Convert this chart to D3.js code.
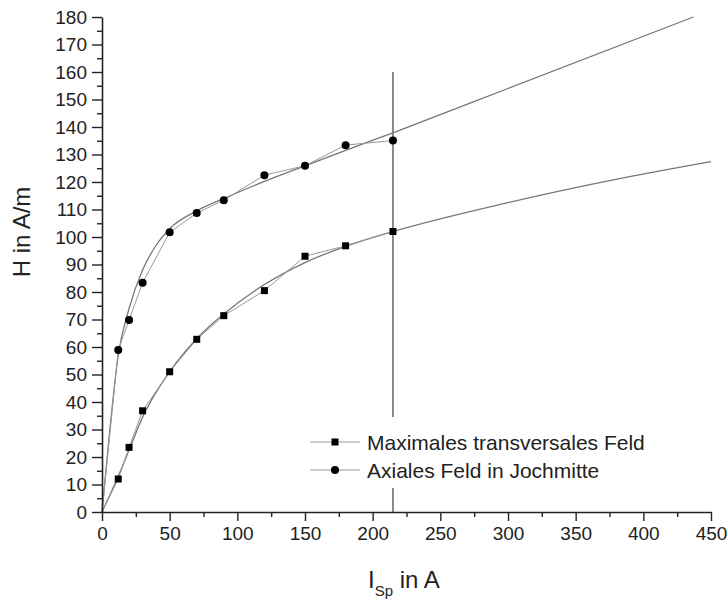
<!DOCTYPE html>
<html>
<head>
<meta charset="utf-8">
<script src="https://cdn.jsdelivr.net/npm/d3@7"></script>
<style>
  body { margin: 0; background: #fff; }
  text { font-family: "Liberation Sans", Arial, sans-serif; fill: #222; }
</style>
</head>
<body>
<div id="plot"></div>
<script>
// measured points
var current = [0, 12, 20, 30, 50, 70, 90, 120, 150, 180, 215];
var transversal = [0, 12, 23.5, 36.8, 51, 62.8, 71.4, 80.5, 93, 96.8, 102];
var axial = [0, 58.9, 69.8, 83.4, 101.7, 108.7, 113.4, 122.5, 125.9, 133.4, 135.1];

// fitted curves
var fitTransX = [0, 12, 20, 30, 50, 70, 90, 120, 150, 180, 215, 300, 375, 450];
var fitTransY = [0, 13, 22.5, 34.5, 51, 63, 72, 82.7, 90.7, 96.6, 102, 112.5, 120.5, 127.4];
var fitAxX = [0, 5, 12, 20, 30, 40, 50, 70, 90, 120, 150, 180, 215, 300, 437];
var fitAxY = [0, 26, 57, 74, 88, 97, 103, 109.5, 114, 120.2, 125.9, 131.5, 137.9, 154, 180];

var markerX = 215, markerTop = 160;
var xTicks = [0, 50, 100, 150, 200, 250, 300, 350, 400, 450];
var yTicks = d3.range(0, 181, 10);

var width = 728, height = 600;

var svg = d3.select("#plot")
    .append("svg")
    .attr("width", width)
    .attr("height", height);

var x = d3.scaleLinear().domain([0, 450]).range([102, 711]);
var y = d3.scaleLinear().domain([0, 180]).range([512, 17]);

var line = d3.line()
    .x(d => x(d[0]))
    .y(d => y(d[1]));
var smooth = d3.line()
    .x(d => x(d[0]))
    .y(d => y(d[1]))
    .curve(d3.curveMonotoneX);

// vertical marker at 215 A
svg.append("line")
    .attr("x1", x(markerX)).attr("x2", x(markerX))
    .attr("y1", y(markerTop)).attr("y2", y(0))
    .attr("stroke", "#666")
    .attr("stroke-width", 1.5);

// fits
svg.append("path")
    .datum(fitTransX.map((v, i) => [v, fitTransY[i]]))
    .attr("d", smooth)
    .attr("fill", "none")
    .attr("stroke", "#777")
    .attr("stroke-width", 1.3);
svg.append("path")
    .datum(fitAxX.map((v, i) => [v, fitAxY[i]]))
    .attr("d", smooth)
    .attr("fill", "none")
    .attr("stroke", "#777")
    .attr("stroke-width", 1.3);

// data polylines
var transData = current.map((v, i) => [v, transversal[i]]);
var axData = current.map((v, i) => [v, axial[i]]);

svg.append("path")
    .datum(transData)
    .attr("d", line)
    .attr("fill", "none")
    .attr("stroke", "#999")
    .attr("stroke-width", 1);
svg.append("path")
    .datum(axData)
    .attr("d", line)
    .attr("fill", "none")
    .attr("stroke", "#999")
    .attr("stroke-width", 1);

// markers (skip origin)
svg.append("g").selectAll("rect")
    .data(transData.slice(1))
    .enter()
    .append("rect")
    .attr("x", d => x(d[0]) - 3.5)
    .attr("y", d => y(d[1]) - 3.5)
    .attr("width", 7)
    .attr("height", 7)
    .attr("fill", "#000");
svg.append("g").selectAll("circle")
    .data(axData.slice(1))
    .enter()
    .append("circle")
    .attr("cx", d => x(d[0]))
    .attr("cy", d => y(d[1]))
    .attr("r", 4)
    .attr("fill", "#000");

// legend
var legend = svg.append("g");
legend.append("rect")
    .attr("x", 300).attr("y", 417)
    .attr("width", 360).attr("height", 71)
    .attr("fill", "#fff");
var legendItems = ["Maximales transversales Feld", "Axiales Feld in Jochmitte"];
legendItems.forEach(function(name, i) {
    var ly = 442 + i * 28;
    legend.append("line")
        .attr("x1", 310).attr("x2", 360)
        .attr("y1", ly).attr("y2", ly)
        .attr("stroke", "#999").attr("stroke-width", 1);
    if (i === 0) {
        legend.append("rect")
            .attr("x", 335 - 3.5).attr("y", ly - 3.5)
            .attr("width", 7).attr("height", 7)
            .attr("fill", "#000");
    } else {
        legend.append("circle")
            .attr("cx", 335).attr("cy", ly).attr("r", 4)
            .attr("fill", "#000");
    }
    legend.append("text")
        .attr("x", 367)
        .attr("y", ly + 7.5)
        .style("font-size", "21px")
        .text(name);
});

// x axis
svg.append("g")
    .attr("transform", `translate(0, ${y(0)})`)
    .call(d3.axisBottom(x).tickValues(xTicks).tickSize(9).tickSizeOuter(0).tickPadding(6));
svg.append("g")
    .attr("transform", `translate(0, ${y(0)})`)
    .call(d3.axisBottom(x).tickValues(d3.range(25, 450, 50)).tickSize(5).tickFormat(""))
    .select(".domain").remove();

// y axis
svg.append("g")
    .attr("transform", `translate(${x(0)}, 0)`)
    .call(d3.axisLeft(y).tickValues(yTicks).tickSize(10).tickSizeOuter(0).tickPadding(5));
svg.append("g")
    .attr("transform", `translate(${x(0)}, 0)`)
    .call(d3.axisLeft(y).tickValues(d3.range(5, 180, 10)).tickSize(5).tickFormat(""))
    .select(".domain").remove();

svg.selectAll(".domain").attr("stroke", "#222").attr("stroke-width", 1.6);
svg.selectAll(".tick line").attr("stroke", "#222").attr("stroke-width", 1.4);
svg.selectAll(".tick text")
    .style("font-family", "'Liberation Sans', Arial, sans-serif")
    .style("font-size", "19px")
    .attr("fill", "#222");

// axis titles
var xt = svg.append("text")
    .attr("x", 368)
    .attr("y", 588)
    .style("font-size", "24px");
xt.append("tspan").text("I");
xt.append("tspan").attr("dy", 8).style("font-size", "15px").text("Sp");
xt.append("tspan").attr("dy", -8).text(" in A");

svg.append("text")
    .attr("transform", `translate(30, 232) rotate(-90)`)
    .style("text-anchor", "middle")
    .style("font-size", "24px")
    .text("H in A/m");
</script>
</body>
</html>
